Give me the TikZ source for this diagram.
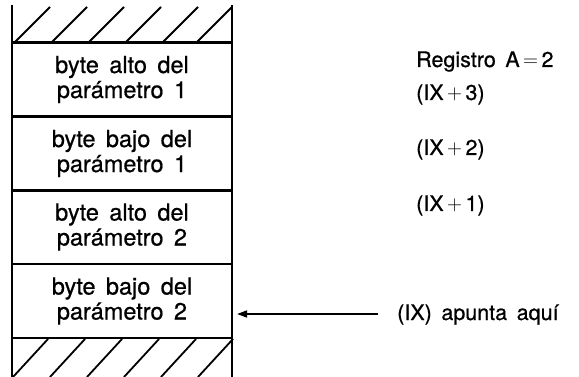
\documentclass[tikz,border=0pt]{standalone}
\usepackage{fontspec}
\setmainfont[WordSpace=1.6,FakeBold=0.6]{TeX Gyre Heros}
\usetikzlibrary{arrows.meta}
\begin{document}
\begin{tikzpicture}[x=1pt,y=-1pt,
  cell/.style={draw,line width=2.2pt,minimum width=220pt,minimum height=74pt,inner sep=0pt,align=center,font=\fontsize{23.5}{25}\selectfont},
  lab/.style={anchor=base west,inner sep=0pt,font=\fontsize{21.5}{24}\selectfont},
  wall/.style={line width=2.4pt},
  hatch/.style={line width=1.8pt}]
\useasboundingbox (0,0) rectangle (579,377);
\node[cell] (b1) at (122,79.5) {byte alto del\\parámetro 1};
\node[cell] (b2) at (122,153.5) {byte bajo del\\parámetro 1};
\node[cell] (b3) at (122,227) {byte alto del\\parámetro 2};
\node[cell] (b4) at (122,301) {byte bajo del\\parámetro 2};
% walls
\draw[wall] (12,5) -- (12,377);
\draw[wall] (232,5) -- (232,377);
% top hatching
\foreach \x in {15,52,89,126,163,197}
  \draw[hatch] (\x,42) -- (\x+35,7);
% bottom hatching
\foreach \x in {13,50,87,124,161,198}
  \draw[hatch] (\x,377) -- (\x+35,339);
% labels
\node[lab] (reg) at (416,67) {Registro A$\,=\,$2};
\node[lab] (ix3) at (416,100) {(IX$\,+\,$3)};
\node[lab] (ix2) at (416,155) {(IX$\,+\,$2)};
\node[lab] (ix1) at (416,211) {(IX$\,+\,$1)};
\node[lab] (ix) at (397,320) {(IX) apunta aquí};
\coordinate (as) at (378,314);
\draw[line width=1.6pt,-{Triangle[length=10pt,width=7pt]},shorten >=4pt] (as) -- (b4.east |- as);
\end{tikzpicture}
\end{document}
